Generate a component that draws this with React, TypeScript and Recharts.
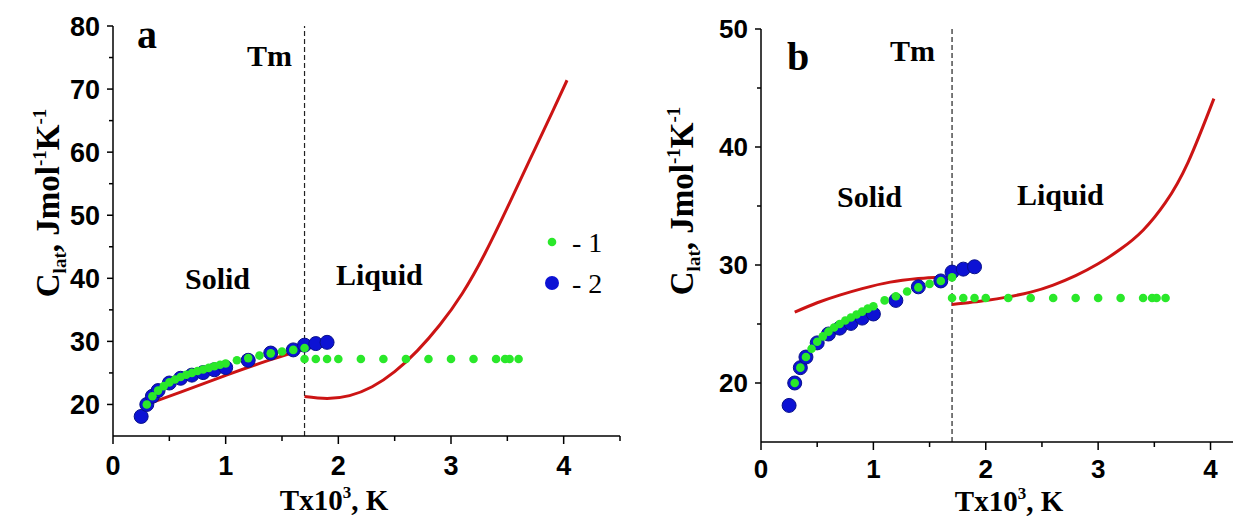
import React from "react";
import { ComposedChart, Line, Scatter, XAxis, YAxis, ReferenceLine } from "recharts";

// experimental points (same in both panels), T in 10^3 K
const t1 = [0.3, 0.35, 0.4, 0.45, 0.5, 0.55, 0.6, 0.65, 0.7, 0.75, 0.8, 0.85, 0.9, 0.95, 1.0, 1.1, 1.2, 1.3, 1.4, 1.5, 1.6, 1.7,
  1.7, 1.8, 1.9, 2.0, 2.2, 2.4, 2.6, 2.8, 3.0, 3.2, 3.4, 3.48, 3.52, 3.6];
const c1 = [20.0, 21.3, 22.2, 22.9, 23.5, 23.95, 24.35, 24.7, 25.0, 25.3, 25.55, 25.8, 26.05, 26.3, 26.5, 27.0, 27.35, 27.75, 28.1, 28.4, 28.65, 28.95,
  27.2, 27.2, 27.2, 27.2, 27.2, 27.2, 27.2, 27.2, 27.2, 27.2, 27.2, 27.2, 27.2, 27.2];
const t2 = [0.25, 0.3, 0.35, 0.4, 0.5, 0.6, 0.7, 0.8, 0.9, 1.0, 1.2, 1.4, 1.6, 1.7, 1.8, 1.9];
const c2 = [18.1, 20.0, 21.3, 22.2, 23.4, 24.15, 24.65, 25.05, 25.5, 25.85, 27.0, 28.15, 28.65, 29.4, 29.65, 29.85];

// model curves, panel a
const tSolidA = [0.3, 0.6, 1.0, 1.4, 1.7];
const cSolidA = [20.0, 21.95, 24.6, 27.1, 28.8];
const tLiqA = [1.7, 1.9, 2.1, 2.3, 2.5, 2.7, 2.9, 3.1, 3.3, 3.5, 3.7, 3.9, 4.03];
const cLiqA = [21.25, 20.95, 21.4, 22.8, 25.2, 28.5, 32.6, 37.6, 43.9, 51.2, 58.8, 66.4, 71.4];

// model curves, panel b
const tSolidB = [0.3, 0.5, 0.7, 0.9, 1.15, 1.4, 1.55, 1.7];
const cSolidB = [26.0, 26.8, 27.45, 28.0, 28.55, 28.85, 28.95, 28.9];
const tLiqB = [1.7, 2.0, 2.2, 2.4, 2.6, 2.8, 3.0, 3.2, 3.4, 3.6, 3.8, 4.03];
const cLiqB = [26.66, 27.0, 27.3, 27.7, 28.3, 29.1, 30.1, 31.35, 32.95, 35.3, 38.7, 44.1];

const xTicksA = [0, 0.5, 1, 1.5, 2, 2.5, 3, 3.5, 4, 4.5];
const xTicksB = [0, 0.5, 1, 1.5, 2, 2.5, 3, 3.5, 4];
const yTicksA = [20, 25, 30, 35, 40, 45, 50, 55, 60, 65, 70, 75, 80];
const yTicksB = [20, 25, 30, 35, 40, 45, 50];
const tMelt = 1.7;

const zip = (xs: number[], ys: number[]) => xs.map((x, i) => ({ x, y: ys[i] }));

const GREEN = "#2ae82a";
const BLUE = "#0c12d4";
const RED = "#cc1414";
const SANS = "'Liberation Sans', Arial, sans-serif";
const SERIF = "'Liberation Serif', 'Times New Roman', serif";

const isMajor = (v: number) => Math.abs(v - Math.round(v)) < 1e-6;

const XTick = (props: any) => {
  const { x, y, payload, fs, dy } = props;
  const v = payload.value;
  const major = isMajor(v);
  return (
    <g>
      <line x1={x} x2={x} y1={y} y2={y + (major ? 8 : 5)} stroke="#000" strokeWidth={1.5} />
      {major && (
        <text x={x} y={y + dy} textAnchor="middle" fontFamily={SANS} fontWeight="bold" fontSize={fs} fill="#000">
          {v}
        </text>
      )}
    </g>
  );
};

const YTick = (props: any) => {
  const { x, y, payload, fs } = props;
  const v = payload.value;
  const major = v % 10 === 0;
  return (
    <g>
      <line x1={x} x2={x - (major ? 6 : 4)} y1={y} y2={y} stroke="#000" strokeWidth={1.5} />
      {major && (
        <text x={x - 13} y={y + fs * 0.36} textAnchor="end" fontFamily={SANS} fontWeight="bold" fontSize={fs} fill="#000">
          {v}
        </text>
      )}
    </g>
  );
};

const blueDot = (p: any) => <circle cx={p.cx} cy={p.cy} r={7} fill={BLUE} stroke="#08108a" strokeWidth={1} />;
const greenDot = (p: any) => <circle cx={p.cx} cy={p.cy} r={4.3} fill={GREEN} />;

interface PanelProps {
  width: number;
  yWidth: number;
  top: number;
  xHeight: number;
  right: number;
  xMax: number;
  yMax: number;
  xTicks: number[];
  yTicks: number[];
  solid: { x: number; y: number }[];
  liquid: { x: number; y: number }[];
  fs: number;
  labelDy: number;
}

function Panel(p: PanelProps) {
  return (
    <ComposedChart width={p.width} height={517} margin={{ top: p.top, right: p.right, bottom: 0, left: 0 }}>
      <XAxis
        dataKey="x"
        type="number"
        domain={[0, p.xMax]}
        ticks={p.xTicks}
        interval={0}
        height={p.xHeight}
        tickSize={0}
        tickMargin={0}
        tickLine={false}
        axisLine={{ stroke: "#000", strokeWidth: 1.5 }}
        tick={(t: any) => <XTick {...t} fs={p.fs} dy={p.labelDy} />}
      />
      <YAxis
        dataKey="y"
        type="number"
        domain={[15, p.yMax]}
        ticks={p.yTicks}
        interval={0}
        width={p.yWidth}
        tickSize={0}
        tickMargin={0}
        tickLine={false}
        axisLine={{ stroke: "#000", strokeWidth: 1.5 }}
        tick={(t: any) => <YTick {...t} fs={p.fs} />}
      />
      <ReferenceLine x={tMelt} stroke="#222" strokeWidth={1.2} strokeDasharray="5 3" />
      <Scatter data={zip(t2, c2)} dataKey="y" shape={blueDot} isAnimationActive={false} />
      <Scatter data={zip(t1, c1)} dataKey="y" shape={greenDot} isAnimationActive={false} />
      <Line data={p.solid} dataKey="y" type="natural" stroke={RED} strokeWidth={3} dot={false} isAnimationActive={false} />
      <Line data={p.liquid} dataKey="y" type="natural" stroke={RED} strokeWidth={3} dot={false} isAnimationActive={false} />
    </ComposedChart>
  );
}

const YTitle = ({ x, y }: { x: number; y: number }) => (
  <text
    x={x}
    y={y}
    transform={`rotate(-90 ${x} ${y})`}
    textAnchor="middle"
    fontFamily={SERIF}
    fontWeight="bold"
    fontSize={33}
    fill="#000"
  >
    C<tspan fontSize={19} dy={7}>lat</tspan>
    <tspan dy={-7}>, Jmol</tspan>
    <tspan fontSize={19} dy={-13}>-1</tspan>
    <tspan dy={13}>K</tspan>
    <tspan fontSize={19} dy={-13}>-1</tspan>
  </text>
);

const XTitle = ({ x, y }: { x: number; y: number }) => (
  <text x={x} y={y} textAnchor="middle" fontFamily={SERIF} fontWeight="bold" fontSize={29} fill="#000">
    Tx10<tspan fontSize={17} dy={-12}>3</tspan>
    <tspan dy={12}>, K</tspan>
  </text>
);

export default function App() {
  const lbl = { fontFamily: SERIF, fontWeight: "bold" as const, fontSize: 30, fill: "#000" };
  return (
    <div style={{ position: "relative", width: 1233, height: 517, background: "#fff", overflow: "hidden" }}>
      <style>{`body{margin:0}`}</style>
      <div style={{ position: "absolute", left: 0, top: 0 }}>
        <Panel width={640} yWidth={113} top={26} xHeight={81} right={20} xMax={4.5} yMax={80}
          xTicks={xTicksA} yTicks={yTicksA} solid={zip(tSolidA, cSolidA)} liquid={zip(tLiqA, cLiqA)} fs={27} labelDy={39} />
      </div>
      <div style={{ position: "absolute", left: 620, top: 0 }}>
        <Panel width={613} yWidth={141} top={29} xHeight={75} right={0} xMax={4.2} yMax={50}
          xTicks={xTicksB} yTicks={yTicksB} solid={zip(tSolidB, cSolidB)} liquid={zip(tLiqB, cLiqB)} fs={26} labelDy={36} />
      </div>
      <svg width={1233} height={517} style={{ position: "absolute", left: 0, top: 0, pointerEvents: "none" }}>
        <YTitle x={59} y={203} />
        <YTitle x={693} y={201} />
        <XTitle x={334} y={510} />
        <XTitle x={1009} y={511} />
        <text x={137} y={48} {...lbl} fontSize={40}>a</text>
        <text x={787} y={70} {...lbl} fontSize={40}>b</text>
        <text x={247} y={66} {...lbl}>Tm</text>
        <text x={890} y={61} {...lbl}>Tm</text>
        <text x={185} y={289} {...lbl}>Solid</text>
        <text x={336} y={285} {...lbl}>Liquid</text>
        <text x={837} y={207} {...lbl}>Solid</text>
        <text x={1017} y={205} {...lbl}>Liquid</text>
        <circle cx={552} cy={242} r={4.3} fill={GREEN} />
        <circle cx={552} cy={283} r={7} fill={BLUE} />
        <text x={572} y={252} fontFamily={SERIF} fontSize={28} fill="#000">- 1</text>
        <text x={572} y={293} fontFamily={SERIF} fontSize={28} fill="#000">- 2</text>
      </svg>
    </div>
  );
}
